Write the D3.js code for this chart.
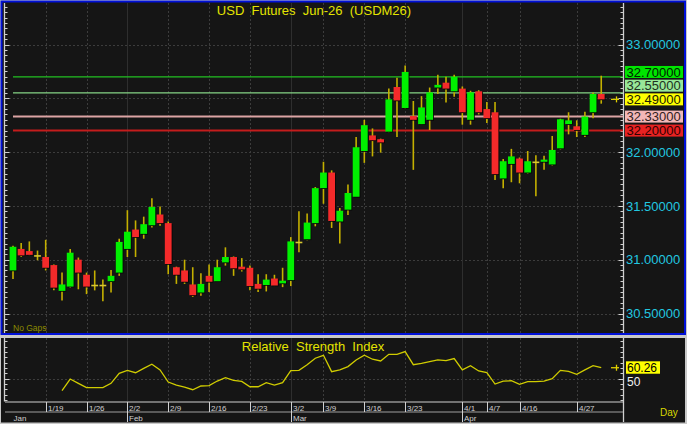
<!DOCTYPE html>
<html><head><meta charset="utf-8">
<script src="https://cdn.jsdelivr.net/npm/d3@7"></script>
<style>
html,body{margin:0;padding:0;background:#c8c8c8;overflow:hidden;}
svg{display:block;font-family:Arial,"Liberation Sans",sans-serif;}
</style></head><body>
<svg id="c" width="687" height="424"></svg>
<script>
// ---------------- DATA ----------------
const dates = ["1/13","1/14","1/15","1/16","1/19","1/20","1/21","1/22","1/23","1/26","1/27","1/28","1/29","1/30",
  "2/2","2/3","2/4","2/5","2/6","2/9","2/10","2/11","2/12","2/13","2/16","2/17","2/18","2/19","2/20","2/23","2/24","2/25","2/26","2/27",
  "3/2","3/4","3/5","3/6","3/9","3/10","3/11","3/12","3/13","3/16","3/17","3/18","3/19","3/20","3/23","3/24","3/25","3/26","3/27","3/30","3/31",
  "4/1","4/2","4/3","4/7","4/8","4/9","4/10","4/16","4/17","4/20","4/21","4/22","4/23","4/24","4/27","4/28","4/29","4/30"];
const openP = [30.90,31.10,31.08,31.035,31.025,30.95,30.71,30.75,31.00,30.86,30.76,30.76,30.80,30.88,
  31.10,31.28,31.24,31.32,31.42,31.34,30.93,30.90,30.77,30.695,30.85,30.80,30.975,31.025,30.935,30.925,30.775,30.765,30.825,30.78,
  30.81,31.16,31.19,31.34,31.665,31.81,31.355,31.465,31.585,32.01,32.155,32.12,32.19,32.605,32.41,32.335,32.26,32.30,32.60,32.645,32.565,
  32.59,32.30,32.565,32.40,32.37,31.755,31.89,31.94,31.81,31.905,31.91,31.885,32.035,32.26,32.24,32.16,32.37,32.54];
const highP = [31.13,31.155,31.17,31.085,31.185,30.955,30.88,31.10,31.02,30.88,30.90,30.815,30.905,31.195,
  31.46,31.365,31.40,31.57,31.495,31.355,30.935,31.00,30.93,30.875,30.955,31.00,31.115,31.03,31.015,30.945,30.865,30.865,30.86,30.925,
  31.21,31.45,31.43,31.675,31.91,31.83,31.48,31.70,32.14,32.30,32.22,32.125,32.59,32.69,32.805,32.475,32.52,32.60,32.72,32.70,32.72,
  32.61,32.57,32.575,32.465,32.465,31.935,32.03,31.95,32.01,31.97,31.965,32.15,32.31,32.37,32.295,32.375,32.555,32.71];
const lowP = [30.82,31.025,31.04,30.995,30.90,30.715,30.62,30.74,30.725,30.68,30.715,30.615,30.695,30.85,
  31.025,31.025,31.195,31.30,31.315,30.865,30.775,30.775,30.655,30.665,30.70,30.795,30.945,30.85,30.89,30.715,30.70,30.705,30.755,30.745,
  30.755,31.07,31.18,31.31,31.52,31.295,31.15,31.415,31.585,31.90,31.96,31.995,32.185,32.14,32.40,31.835,32.255,32.205,32.54,32.46,32.515,
  32.255,32.255,32.35,32.27,31.74,31.665,31.72,31.71,31.80,31.59,31.835,31.875,32.025,32.165,32.14,32.14,32.315,32.45];
const closeP = [31.12,31.04,31.045,31.035,30.925,30.74,30.77,31.065,30.88,30.75,30.76,30.76,30.85,31.165,
  31.26,31.21,31.33,31.49,31.34,30.96,30.86,30.795,30.67,30.775,30.795,30.93,31.025,30.92,30.91,30.755,30.73,30.815,30.76,30.805,
  31.17,31.16,31.345,31.665,31.81,31.36,31.455,31.62,32.045,32.25,32.11,32.09,32.49,32.48,32.745,32.30,32.415,32.555,32.625,32.59,32.70,
  32.37,32.555,32.37,32.315,31.795,31.915,31.96,31.81,31.915,31.905,31.93,32.02,32.305,32.295,32.205,32.33,32.54,32.49];
const rsiValues = [null,null,null,null,null,null,38.8,49.7,45.7,41.6,41.6,41.6,45.7,55.0,
  57.8,55.6,59.7,63.5,58.2,46.9,44.1,42.2,39.7,43.2,43.5,47.8,50.9,48.4,47.5,42.5,42.5,46.3,44.1,46.3,
  57.5,57.8,63.1,69.1,71.9,56.6,58.2,61.3,67.5,71.9,68.2,66.6,72.8,72.8,75.3,63.1,64.4,65.9,67.5,66.9,68.8,
  58.2,62.2,57.2,55.6,45.0,47.8,48.1,44.7,47.2,47.2,47.8,50.0,57.8,56.9,54.1,58.2,62.2,60.26];
const tickLabels = ["1/19","1/26","2/2","2/9","2/16","2/23","3/2","3/9","3/16","3/23","4/1","4/7","4/16","4/27"];
const monthStarts = ["1/13","2/2","3/2","4/1"];
const monthLabels = ["Jan","Feb","Mar","Apr"];
const priceLabels = [33.0, 32.0, 31.5, 31.0, 30.5];
const levelValues = [32.70, 32.55, 32.49, 32.33, 32.20];
const lastPrice = 32.49;
const lastRsi = 60.26;
const titleText = "USD\u00a0\u00a0Futures\u00a0\u00a0Jun-26\u00a0\u00a0(USDM26)";
const rsiTitle = "Relative\u00a0\u00a0Strength\u00a0\u00a0Index";

// ---------------- STYLE ----------------
const levelStyle = {
  "32.7":  {line:"#22c022", lw:1.2, box:"#00e400", txt:"#002000"},
  "32.55": {line:"#86d486", lw:1.2, box:"#98e898", txt:"#203020"},
  "32.49": {line:null,     lw:0,   box:"#ffff00", txt:"#202000"},
  "32.33": {line:"#dca4a4", lw:2,   box:"#f2b8b8", txt:"#302020"},
  "32.2":  {line:"#c41c1c", lw:2,   box:"#e82222", txt:"#300000"}
};
const BG = "#151515", GRID = "#3c3c3c", AX = "#d0d0d0";
const WICK = "#c4b000", UP = "#00f000", DN = "#f42a2a";

const svg = d3.select("#c");
const PL = 5, PR = 623, PT = 3, PB = 333;
const RT = 338, RB = 401.5;

const x = d3.scaleLinear().domain([0, dates.length - 1]).range([13, 13 + 8.17 * (dates.length - 1)]);
const y = d3.scaleLinear().domain([30.5, 33]).range([313.5, 44.5]);
const yr = d3.scaleLinear().domain([50, 60]).range([378.7, 368.0]);

// backgrounds
svg.append("rect").attr("x",0).attr("y",0).attr("width",687).attr("height",424).attr("fill","#c8c8c8");
svg.append("rect").attr("x",1).attr("y",RT-0.5).attr("width",684).attr("height",422.5-RT+0.5).attr("fill",BG);
svg.append("rect").attr("x",1.5).attr("y",1.5).attr("width",683.5).attr("height",332.5).attr("fill",BG)
  .attr("stroke","#0010d8").attr("stroke-width",2);

const tickIdx = tickLabels.map(t => dates.indexOf(t));
const monthIdx = monthStarts.map(t => dates.indexOf(t));

// ---- main panel grid
const gMain = svg.append("g");
[30.5,31,31.5,32,32.5,33].forEach(v => {
  gMain.append("line").attr("x1",PL).attr("x2",PR).attr("y1",Math.round(y(v))+0.5).attr("y2",Math.round(y(v))+0.5)
    .attr("stroke",GRID).attr("stroke-dasharray","2,2");
});
function vGrid(g, top, bot) {
  tickIdx.forEach(i => {
    const isMonth = monthIdx.includes(i);
    g.append("line").attr("x1",Math.round(x(i))+0.5).attr("x2",Math.round(x(i))+0.5).attr("y1",top).attr("y2",bot)
      .attr("stroke", isMonth ? "#2e2e2e" : GRID).attr("stroke-dasharray", isMonth ? null : "2,2");
  });
}
vGrid(gMain, PT, PB);

// axes lines & ticks
function ticksAxis(g, xLine, dir, top, bot, vals, majorFn, scale) {
  g.append("line").attr("x1",xLine).attr("x2",xLine).attr("y1",top).attr("y2",bot).attr("stroke",AX).attr("stroke-width",1.3);
  vals.forEach(v => {
    const yy = Math.round(scale(v)) + 0.5;
    if (yy < top || yy > bot) return;
    const len = majorFn(v) ? 5 : 3;
    g.append("line").attr("x1",xLine).attr("x2",xLine + dir*len).attr("y1",yy).attr("y2",yy).attr("stroke",AX);
  });
}
const minorP = d3.range(30.35, 33.40, 0.05).map(v => +v.toFixed(2));
const isMajorP = v => Math.abs(v*2 - Math.round(v*2)) < 1e-6;
ticksAxis(gMain, 4.5, 1, PT, PB, minorP, isMajorP, y);
ticksAxis(gMain, PR+0.5, -1, PT, PB, minorP, isMajorP, y);

// level lines
levelValues.forEach(v => {
  const st = levelStyle[String(v)];
  if (!st.line) return;
  gMain.append("line").attr("x1",x(0)).attr("x2",PR).attr("y1",y(v)).attr("y2",y(v))
    .attr("stroke",st.line).attr("stroke-width",st.lw);
});

// candles
const n = dates.length;
const bw = 6.8;
const gC = gMain.append("g");
for (let i = 0; i < n; i++) {
  const cx = x(i), o = openP[i], c = closeP[i];
  gC.append("line").attr("x1",cx).attr("x2",cx).attr("y1",y(highP[i])).attr("y2",y(lowP[i]))
    .attr("stroke",WICK).attr("stroke-width",1.6);
  if (Math.abs(o - c) < 0.004) {
    gC.append("line").attr("x1",cx-bw/2).attr("x2",cx+bw/2).attr("y1",y(c)).attr("y2",y(c))
      .attr("stroke","#d8c830").attr("stroke-width",1.6);
  } else {
    const top = y(Math.max(o,c)), h = Math.max(1.5, Math.abs(y(o)-y(c)));
    gC.append("rect").attr("x",cx-bw/2+0.8).attr("y",top+0.8).attr("width",bw).attr("height",h).attr("fill","#050505");
    gC.append("rect").attr("x",cx-bw/2).attr("y",top).attr("width",bw).attr("height",h)
      .attr("fill", c > o ? UP : DN);
  }
}
// last value marker
function marker(g, mx, my) {
  g.append("line").attr("x1",mx-4).attr("x2",mx+4).attr("y1",my).attr("y2",my).attr("stroke","#e0d000").attr("stroke-width",1.3);
  g.append("line").attr("x1",mx+1.5).attr("x2",mx+1.5).attr("y1",my-3).attr("y2",my+3).attr("stroke","#e0d000").attr("stroke-width",1.3);
}
marker(gMain, 615, y(lastPrice));

// titles
svg.append("text").attr("x",314).attr("y",15).attr("text-anchor","middle").attr("font-size",13)
  .attr("fill","#e4e400").text(titleText);
svg.append("text").attr("x",13).attr("y",331).attr("font-size",8.5).attr("fill","#8c8c00").text("No Gaps");

// right price labels
priceLabels.forEach(v => {
  svg.append("text").attr("x",626).attr("y",y(v)+4.7).attr("font-size",13).attr("fill","#22c8e0").text(v.toFixed(5));
});
// level boxes with simple overlap avoidance (bottom to top)
const sorted = levelValues.slice().sort((a,b)=>a-b);
let prev = Infinity;
const sp = 13.7;
sorted.forEach(v => {
  const cy = Math.min(y(v), prev - sp);
  prev = cy;
  const st = levelStyle[String(v)];
  svg.append("rect").attr("x",625).attr("y",cy-6).attr("width",58).attr("height",12).attr("fill",st.box);
  svg.append("text").attr("x",626.5).attr("y",cy+4.7).attr("font-size",13).attr("fill",st.txt).text(v.toFixed(5));
});

// ---- separator between panels
svg.append("rect").attr("x",0).attr("y",335).attr("width",687).attr("height",3).attr("fill","#c8c8c8");

// ---- RSI panel
const gR = svg.append("g");
gR.append("line").attr("x1",PL).attr("x2",PR).attr("y1",Math.round(yr(50))+0.5).attr("y2",Math.round(yr(50))+0.5)
  .attr("stroke",GRID).attr("stroke-dasharray","2,2");
vGrid(gR, RT, RB);
const rTicks = d3.range(30, 90, 5);
ticksAxis(gR, 4.5, 1, RT, RB, rTicks, v => v === 50, yr);
ticksAxis(gR, PR+0.5, -1, RT, 422, rTicks, v => v === 50, yr);

const line = d3.line().defined(d => d != null).x((d,i) => x(i)).y(d => yr(d));
gR.append("path").datum(rsiValues).attr("d", line).attr("fill","none").attr("stroke","#d0cc00").attr("stroke-width",1.3);
gR.append("text").attr("x",313).attr("y",351).attr("text-anchor","middle").attr("font-size",13)
  .attr("fill","#e4e400").text(rsiTitle);
marker(gR, 615, yr(lastRsi));
gR.append("rect").attr("x",626).attr("y",yr(lastRsi)-6.4).attr("width",34).attr("height",12.4).attr("fill","#ffff00");
gR.append("text").attr("x",627).attr("y",yr(lastRsi)+4.1).attr("font-size",12).attr("fill","#000").text(lastRsi.toFixed(2));
gR.append("text").attr("x",627).attr("y",yr(50)+7).attr("font-size",12).attr("fill","#f0f0f0").text("50");

// ---- date axis
const gA = svg.append("g");
gA.append("line").attr("x1",PL).attr("x2",PR).attr("y1",402).attr("y2",402).attr("stroke",AX);
gA.append("line").attr("x1",PL).attr("x2",PR).attr("y1",412).attr("y2",412).attr("stroke","#a0a0a0");
tickIdx.forEach((i,k) => {
  const xx = Math.round(x(i)) + 0.5;
  gA.append("line").attr("x1",xx).attr("x2",xx).attr("y1",402).attr("y2",412).attr("stroke",AX);
  gA.append("text").attr("x",xx+1.5).attr("y",410.5).attr("font-size",8).attr("fill","#d0d0d0").text(tickLabels[k]);
});
monthIdx.forEach((i,k) => {
  const xx = Math.round(x(i)) + 0.5;
  if (i > 0) gA.append("line").attr("x1",xx).attr("x2",xx).attr("y1",402).attr("y2",422).attr("stroke",AX);
  gA.append("text").attr("x", i > 0 ? xx+1.5 : xx).attr("y",420.5).attr("font-size",8).attr("fill","#d0d0d0").text(monthLabels[k]);
});
gA.append("text").attr("x",660).attr("y",416).attr("font-size",10).attr("fill","#d8d800").text("Day");
</script>
</body></html>
